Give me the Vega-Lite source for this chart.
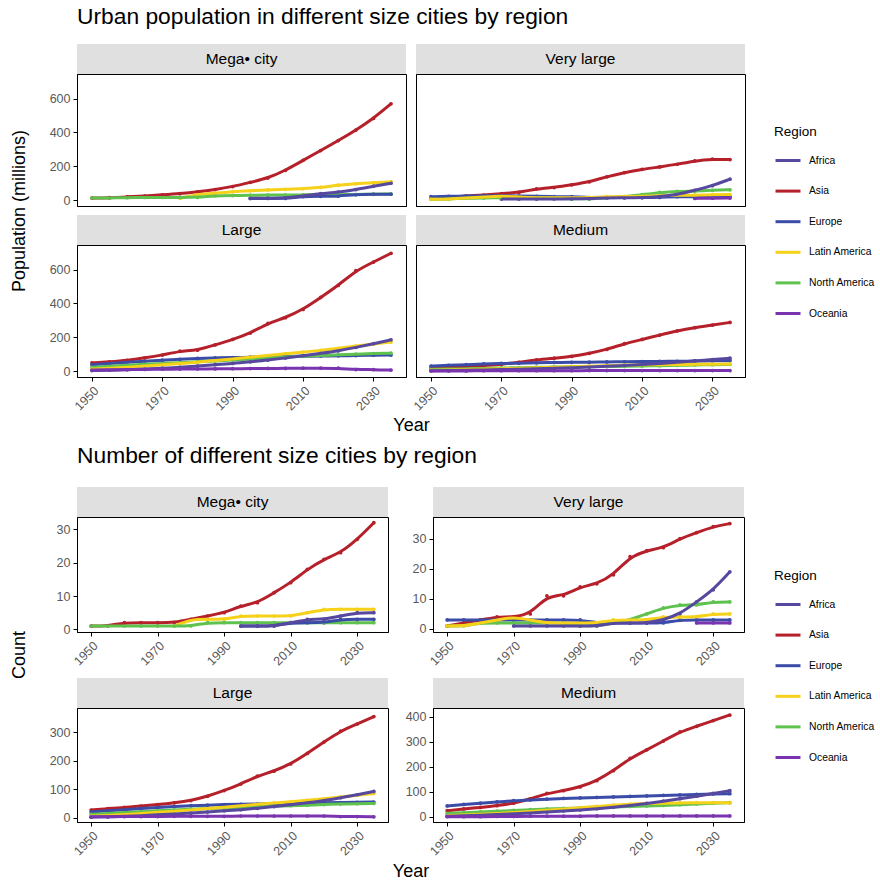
{
"$schema": "https://vega.github.io/schema/vega-lite/v6.json",
"background": "white",
"padding": {"left": 9, "top": 6, "right": 0, "bottom": 0},
"datasets": {
"mega": [
{"region":"Asia","year":1950,"pop":12,"count":1},{"region":"Asia","year":1955,"pop":14,"count":1},{"region":"Asia","year":1960,"pop":19,"count":2},{"region":"Asia","year":1965,"pop":24,"count":2},{"region":"Asia","year":1970,"pop":31,"count":2},{"region":"Asia","year":1975,"pop":38,"count":2},{"region":"Asia","year":1980,"pop":48,"count":3},{"region":"Asia","year":1985,"pop":62,"count":4},{"region":"Asia","year":1990,"pop":80,"count":5},{"region":"Asia","year":1995,"pop":105,"count":7},{"region":"Asia","year":2000,"pop":130,"count":8},{"region":"Asia","year":2005,"pop":176,"count":11},{"region":"Asia","year":2010,"pop":235,"count":14},{"region":"Asia","year":2015,"pop":293,"count":18},{"region":"Asia","year":2020,"pop":352,"count":21},{"region":"Asia","year":2025,"pop":414,"count":23},{"region":"Asia","year":2030,"pop":483,"count":27},{"region":"Asia","year":2035,"pop":570,"count":32},
{"region":"Latin America","year":1975,"pop":11,"count":1},{"region":"Latin America","year":1980,"pop":35,"count":3},{"region":"Latin America","year":1985,"pop":40,"count":3},{"region":"Latin America","year":1990,"pop":50,"count":3},{"region":"Latin America","year":1995,"pop":55,"count":4},{"region":"Latin America","year":2000,"pop":60,"count":4},{"region":"Latin America","year":2005,"pop":64,"count":4},{"region":"Latin America","year":2010,"pop":67,"count":4},{"region":"Latin America","year":2015,"pop":75,"count":5},{"region":"Latin America","year":2020,"pop":88,"count":6},{"region":"Latin America","year":2025,"pop":97,"count":6},{"region":"Latin America","year":2030,"pop":103,"count":6},{"region":"Latin America","year":2035,"pop":108,"count":6},
{"region":"North America","year":1950,"pop":12,"count":1},{"region":"North America","year":1955,"pop":13,"count":1},{"region":"North America","year":1960,"pop":14,"count":1},{"region":"North America","year":1965,"pop":16,"count":1},{"region":"North America","year":1970,"pop":16,"count":1},{"region":"North America","year":1975,"pop":16,"count":1},{"region":"North America","year":1980,"pop":16,"count":1},{"region":"North America","year":1985,"pop":26,"count":2},{"region":"North America","year":1990,"pop":27,"count":2},{"region":"North America","year":1995,"pop":28,"count":2},{"region":"North America","year":2000,"pop":30,"count":2},{"region":"North America","year":2005,"pop":30,"count":2},{"region":"North America","year":2010,"pop":31,"count":2},{"region":"North America","year":2015,"pop":31,"count":2},{"region":"North America","year":2020,"pop":32,"count":2},{"region":"North America","year":2025,"pop":33,"count":2},{"region":"North America","year":2030,"pop":35,"count":2},{"region":"North America","year":2035,"pop":36,"count":2},
{"region":"Europe","year":1995,"pop":10,"count":1},{"region":"Europe","year":2000,"pop":10,"count":1},{"region":"Europe","year":2005,"pop":10,"count":1},{"region":"Europe","year":2010,"pop":21,"count":2},{"region":"Europe","year":2015,"pop":22,"count":2},{"region":"Europe","year":2020,"pop":23,"count":2},{"region":"Europe","year":2025,"pop":33,"count":3},{"region":"Europe","year":2030,"pop":34,"count":3},{"region":"Europe","year":2035,"pop":35,"count":3},
{"region":"Africa","year":1995,"pop":10,"count":1},{"region":"Africa","year":2000,"pop":11,"count":1},{"region":"Africa","year":2005,"pop":12,"count":1},{"region":"Africa","year":2010,"pop":24,"count":2},{"region":"Africa","year":2015,"pop":38,"count":3},{"region":"Africa","year":2020,"pop":47,"count":3},{"region":"Africa","year":2025,"pop":62,"count":4},{"region":"Africa","year":2030,"pop":82,"count":5},{"region":"Africa","year":2035,"pop":100,"count":5}
],
"vlarge": [
{"region":"Asia","year":1950,"pop":8,"count":1},{"region":"Asia","year":1955,"pop":17,"count":2},{"region":"Asia","year":1960,"pop":24,"count":3},{"region":"Asia","year":1965,"pop":30,"count":4},{"region":"Asia","year":1970,"pop":38,"count":4},{"region":"Asia","year":1975,"pop":45,"count":5},{"region":"Asia","year":1980,"pop":67,"count":11},{"region":"Asia","year":1985,"pop":74,"count":11},{"region":"Asia","year":1990,"pop":90,"count":14},{"region":"Asia","year":1995,"pop":108,"count":15},{"region":"Asia","year":2000,"pop":138,"count":18},{"region":"Asia","year":2005,"pop":163,"count":24},{"region":"Asia","year":2010,"pop":182,"count":26},{"region":"Asia","year":2015,"pop":196,"count":27},{"region":"Asia","year":2020,"pop":212,"count":30},{"region":"Asia","year":2025,"pop":232,"count":32},{"region":"Asia","year":2030,"pop":242,"count":34},{"region":"Asia","year":2035,"pop":240,"count":35},
{"region":"Europe","year":1950,"pop":20,"count":3},{"region":"Europe","year":1955,"pop":22,"count":3},{"region":"Europe","year":1960,"pop":24,"count":3},{"region":"Europe","year":1965,"pop":25,"count":3},{"region":"Europe","year":1970,"pop":26,"count":3},{"region":"Europe","year":1975,"pop":24,"count":3},{"region":"Europe","year":1980,"pop":22,"count":3},{"region":"Europe","year":1985,"pop":20,"count":3},{"region":"Europe","year":1990,"pop":20,"count":3},{"region":"Europe","year":1995,"pop":15,"count":2},{"region":"Europe","year":2000,"pop":16,"count":2},{"region":"Europe","year":2005,"pop":16,"count":2},{"region":"Europe","year":2010,"pop":15,"count":2},{"region":"Europe","year":2015,"pop":16,"count":2},{"region":"Europe","year":2020,"pop":20,"count":3},{"region":"Europe","year":2025,"pop":20,"count":3},{"region":"Europe","year":2030,"pop":20,"count":3},{"region":"Europe","year":2035,"pop":20,"count":3},
{"region":"North America","year":1950,"pop":5,"count":1},{"region":"North America","year":1955,"pop":5,"count":1},{"region":"North America","year":1960,"pop":12,"count":2},{"region":"North America","year":1965,"pop":13,"count":2},{"region":"North America","year":1970,"pop":14,"count":2},{"region":"North America","year":1975,"pop":14,"count":2},{"region":"North America","year":1980,"pop":13,"count":2},{"region":"North America","year":1985,"pop":13,"count":2},{"region":"North America","year":1990,"pop":7,"count":1},{"region":"North America","year":1995,"pop":7,"count":1},{"region":"North America","year":2000,"pop":14,"count":2},{"region":"North America","year":2005,"pop":20,"count":3},{"region":"North America","year":2010,"pop":32,"count":5},{"region":"North America","year":2015,"pop":45,"count":7},{"region":"North America","year":2020,"pop":52,"count":8},{"region":"North America","year":2025,"pop":53,"count":8},{"region":"North America","year":2030,"pop":58,"count":9},{"region":"North America","year":2035,"pop":61,"count":9},
{"region":"Latin America","year":1950,"pop":5,"count":1},{"region":"Latin America","year":1955,"pop":6,"count":1},{"region":"Latin America","year":1960,"pop":12,"count":2},{"region":"Latin America","year":1965,"pop":18,"count":3},{"region":"Latin America","year":1970,"pop":25,"count":4},{"region":"Latin America","year":1975,"pop":18,"count":3},{"region":"Latin America","year":1980,"pop":13,"count":2},{"region":"Latin America","year":1985,"pop":14,"count":2},{"region":"Latin America","year":1990,"pop":14,"count":2},{"region":"Latin America","year":1995,"pop":15,"count":2},{"region":"Latin America","year":2000,"pop":20,"count":3},{"region":"Latin America","year":2005,"pop":21,"count":3},{"region":"Latin America","year":2010,"pop":22,"count":3},{"region":"Latin America","year":2015,"pop":27,"count":4},{"region":"Latin America","year":2020,"pop":28,"count":4},{"region":"Latin America","year":2025,"pop":29,"count":4},{"region":"Latin America","year":2030,"pop":32,"count":5},{"region":"Latin America","year":2035,"pop":33,"count":5},
{"region":"Africa","year":1970,"pop":6,"count":1},{"region":"Africa","year":1975,"pop":6,"count":1},{"region":"Africa","year":1980,"pop":6,"count":1},{"region":"Africa","year":1985,"pop":7,"count":1},{"region":"Africa","year":1990,"pop":7,"count":1},{"region":"Africa","year":1995,"pop":8,"count":1},{"region":"Africa","year":2000,"pop":13,"count":2},{"region":"Africa","year":2005,"pop":13,"count":2},{"region":"Africa","year":2010,"pop":14,"count":2},{"region":"Africa","year":2015,"pop":20,"count":3},{"region":"Africa","year":2020,"pop":32,"count":5},{"region":"Africa","year":2025,"pop":58,"count":9},{"region":"Africa","year":2030,"pop":85,"count":13},{"region":"Africa","year":2035,"pop":124,"count":19},
{"region":"Oceania","year":2025,"pop":10,"count":2},{"region":"Oceania","year":2030,"pop":11,"count":2},{"region":"Oceania","year":2035,"pop":12,"count":2}
],
"large": [
{"region":"Asia","year":1950,"pop":48,"count":27},{"region":"Asia","year":1955,"pop":55,"count":32},{"region":"Asia","year":1960,"pop":63,"count":36},{"region":"Asia","year":1965,"pop":78,"count":41},{"region":"Asia","year":1970,"pop":95,"count":46},{"region":"Asia","year":1975,"pop":118,"count":52},{"region":"Asia","year":1980,"pop":124,"count":60},{"region":"Asia","year":1985,"pop":155,"count":75},{"region":"Asia","year":1990,"pop":187,"count":95},{"region":"Asia","year":1995,"pop":225,"count":118},{"region":"Asia","year":2000,"pop":282,"count":146},{"region":"Asia","year":2005,"pop":316,"count":163},{"region":"Asia","year":2010,"pop":365,"count":188},{"region":"Asia","year":2015,"pop":436,"count":225},{"region":"Asia","year":2020,"pop":507,"count":265},{"region":"Asia","year":2025,"pop":594,"count":303},{"region":"Asia","year":2030,"pop":645,"count":328},{"region":"Asia","year":2035,"pop":697,"count":354},
{"region":"Europe","year":1950,"pop":38,"count":20},{"region":"Europe","year":1955,"pop":45,"count":24},{"region":"Europe","year":1960,"pop":52,"count":28},{"region":"Europe","year":1965,"pop":58,"count":32},{"region":"Europe","year":1970,"pop":65,"count":36},{"region":"Europe","year":1975,"pop":70,"count":39},{"region":"Europe","year":1980,"pop":75,"count":42},{"region":"Europe","year":1985,"pop":78,"count":44},{"region":"Europe","year":1990,"pop":80,"count":46},{"region":"Europe","year":1995,"pop":82,"count":47},{"region":"Europe","year":2000,"pop":84,"count":48},{"region":"Europe","year":2005,"pop":86,"count":49},{"region":"Europe","year":2010,"pop":88,"count":50},{"region":"Europe","year":2015,"pop":89,"count":51},{"region":"Europe","year":2020,"pop":90,"count":52},{"region":"Europe","year":2025,"pop":92,"count":53},{"region":"Europe","year":2030,"pop":94,"count":54},{"region":"Europe","year":2035,"pop":95,"count":55},
{"region":"North America","year":1950,"pop":22,"count":12},{"region":"North America","year":1955,"pop":28,"count":15},{"region":"North America","year":1960,"pop":34,"count":18},{"region":"North America","year":1965,"pop":40,"count":21},{"region":"North America","year":1970,"pop":45,"count":24},{"region":"North America","year":1975,"pop":50,"count":27},{"region":"North America","year":1980,"pop":55,"count":30},{"region":"North America","year":1985,"pop":60,"count":32},{"region":"North America","year":1990,"pop":65,"count":34},{"region":"North America","year":1995,"pop":72,"count":36},{"region":"North America","year":2000,"pop":78,"count":38},{"region":"North America","year":2005,"pop":84,"count":40},{"region":"North America","year":2010,"pop":88,"count":42},{"region":"North America","year":2015,"pop":92,"count":44},{"region":"North America","year":2020,"pop":96,"count":46},{"region":"North America","year":2025,"pop":100,"count":48},{"region":"North America","year":2030,"pop":104,"count":49},{"region":"North America","year":2035,"pop":106,"count":50},
{"region":"Latin America","year":1950,"pop":12,"count":6},{"region":"Latin America","year":1955,"pop":16,"count":8},{"region":"Latin America","year":1960,"pop":22,"count":11},{"region":"Latin America","year":1965,"pop":30,"count":15},{"region":"Latin America","year":1970,"pop":38,"count":19},{"region":"Latin America","year":1975,"pop":45,"count":23},{"region":"Latin America","year":1980,"pop":52,"count":27},{"region":"Latin America","year":1985,"pop":62,"count":32},{"region":"Latin America","year":1990,"pop":72,"count":37},{"region":"Latin America","year":1995,"pop":82,"count":42},{"region":"Latin America","year":2000,"pop":92,"count":47},{"region":"Latin America","year":2005,"pop":103,"count":52},{"region":"Latin America","year":2010,"pop":112,"count":56},{"region":"Latin America","year":2015,"pop":122,"count":61},{"region":"Latin America","year":2020,"pop":135,"count":66},{"region":"Latin America","year":2025,"pop":148,"count":72},{"region":"Latin America","year":2030,"pop":160,"count":79},{"region":"Latin America","year":2035,"pop":172,"count":85},
{"region":"Africa","year":1950,"pop":3,"count":2},{"region":"Africa","year":1955,"pop":5,"count":3},{"region":"Africa","year":1960,"pop":8,"count":5},{"region":"Africa","year":1965,"pop":12,"count":7},{"region":"Africa","year":1970,"pop":17,"count":10},{"region":"Africa","year":1975,"pop":22,"count":13},{"region":"Africa","year":1980,"pop":30,"count":16},{"region":"Africa","year":1985,"pop":38,"count":20},{"region":"Africa","year":1990,"pop":45,"count":24},{"region":"Africa","year":1995,"pop":55,"count":28},{"region":"Africa","year":2000,"pop":65,"count":33},{"region":"Africa","year":2005,"pop":78,"count":39},{"region":"Africa","year":2010,"pop":90,"count":45},{"region":"Africa","year":2015,"pop":105,"count":52},{"region":"Africa","year":2020,"pop":120,"count":60},{"region":"Africa","year":2025,"pop":140,"count":70},{"region":"Africa","year":2030,"pop":162,"count":80},{"region":"Africa","year":2035,"pop":185,"count":92},
{"region":"Oceania","year":1950,"pop":6,"count":3},{"region":"Oceania","year":1955,"pop":7,"count":3},{"region":"Oceania","year":1960,"pop":9,"count":4},{"region":"Oceania","year":1965,"pop":10,"count":4},{"region":"Oceania","year":1970,"pop":11,"count":4},{"region":"Oceania","year":1975,"pop":12,"count":5},{"region":"Oceania","year":1980,"pop":13,"count":5},{"region":"Oceania","year":1985,"pop":13,"count":5},{"region":"Oceania","year":1990,"pop":14,"count":5},{"region":"Oceania","year":1995,"pop":15,"count":6},{"region":"Oceania","year":2000,"pop":16,"count":6},{"region":"Oceania","year":2005,"pop":16,"count":6},{"region":"Oceania","year":2010,"pop":17,"count":6},{"region":"Oceania","year":2015,"pop":17,"count":6},{"region":"Oceania","year":2020,"pop":17,"count":6},{"region":"Oceania","year":2025,"pop":9,"count":4},{"region":"Oceania","year":2030,"pop":9,"count":4},{"region":"Oceania","year":2035,"pop":6,"count":3}
],
"medium": [
{"region":"Asia","year":1950,"pop":18,"count":25},{"region":"Asia","year":1955,"pop":22,"count":32},{"region":"Asia","year":1960,"pop":28,"count":38},{"region":"Asia","year":1965,"pop":33,"count":45},{"region":"Asia","year":1970,"pop":40,"count":55},{"region":"Asia","year":1975,"pop":52,"count":72},{"region":"Asia","year":1980,"pop":66,"count":94},{"region":"Asia","year":1985,"pop":76,"count":105},{"region":"Asia","year":1990,"pop":87,"count":120},{"region":"Asia","year":1995,"pop":105,"count":145},{"region":"Asia","year":2000,"pop":128,"count":185},{"region":"Asia","year":2005,"pop":162,"count":234},{"region":"Asia","year":2010,"pop":187,"count":268},{"region":"Asia","year":2015,"pop":213,"count":303},{"region":"Asia","year":2020,"pop":238,"count":340},{"region":"Asia","year":2025,"pop":257,"count":362},{"region":"Asia","year":2030,"pop":272,"count":385},{"region":"Asia","year":2035,"pop":288,"count":407},
{"region":"Europe","year":1950,"pop":30,"count":44},{"region":"Europe","year":1955,"pop":34,"count":50},{"region":"Europe","year":1960,"pop":38,"count":55},{"region":"Europe","year":1965,"pop":42,"count":60},{"region":"Europe","year":1970,"pop":45,"count":65},{"region":"Europe","year":1975,"pop":47,"count":68},{"region":"Europe","year":1980,"pop":49,"count":71},{"region":"Europe","year":1985,"pop":51,"count":74},{"region":"Europe","year":1990,"pop":52,"count":76},{"region":"Europe","year":1995,"pop":53,"count":78},{"region":"Europe","year":2000,"pop":54,"count":80},{"region":"Europe","year":2005,"pop":55,"count":82},{"region":"Europe","year":2010,"pop":56,"count":84},{"region":"Europe","year":2015,"pop":57,"count":86},{"region":"Europe","year":2020,"pop":58,"count":88},{"region":"Europe","year":2025,"pop":59,"count":90},{"region":"Europe","year":2030,"pop":61,"count":92},{"region":"Europe","year":2035,"pop":62,"count":93},
{"region":"North America","year":1950,"pop":10,"count":14},{"region":"North America","year":1955,"pop":12,"count":17},{"region":"North America","year":1960,"pop":14,"count":20},{"region":"North America","year":1965,"pop":16,"count":23},{"region":"North America","year":1970,"pop":18,"count":26},{"region":"North America","year":1975,"pop":20,"count":29},{"region":"North America","year":1980,"pop":22,"count":32},{"region":"North America","year":1985,"pop":24,"count":34},{"region":"North America","year":1990,"pop":25,"count":36},{"region":"North America","year":1995,"pop":26,"count":38},{"region":"North America","year":2000,"pop":27,"count":40},{"region":"North America","year":2005,"pop":28,"count":42},{"region":"North America","year":2010,"pop":30,"count":44},{"region":"North America","year":2015,"pop":32,"count":46},{"region":"North America","year":2020,"pop":34,"count":49},{"region":"North America","year":2025,"pop":36,"count":52},{"region":"North America","year":2030,"pop":38,"count":55},{"region":"North America","year":2035,"pop":40,"count":57},
{"region":"Latin America","year":1950,"pop":5,"count":5},{"region":"Latin America","year":1955,"pop":7,"count":8},{"region":"Latin America","year":1960,"pop":9,"count":11},{"region":"Latin America","year":1965,"pop":11,"count":14},{"region":"Latin America","year":1970,"pop":14,"count":18},{"region":"Latin America","year":1975,"pop":17,"count":22},{"region":"Latin America","year":1980,"pop":20,"count":27},{"region":"Latin America","year":1985,"pop":23,"count":32},{"region":"Latin America","year":1990,"pop":26,"count":37},{"region":"Latin America","year":1995,"pop":29,"count":42},{"region":"Latin America","year":2000,"pop":32,"count":47},{"region":"Latin America","year":2005,"pop":35,"count":51},{"region":"Latin America","year":2010,"pop":37,"count":54},{"region":"Latin America","year":2015,"pop":38,"count":55},{"region":"Latin America","year":2020,"pop":39,"count":56},{"region":"Latin America","year":2025,"pop":40,"count":57},{"region":"Latin America","year":2030,"pop":41,"count":57},{"region":"Latin America","year":2035,"pop":42,"count":57},
{"region":"Africa","year":1950,"pop":2,"count":3},{"region":"Africa","year":1955,"pop":3,"count":5},{"region":"Africa","year":1960,"pop":5,"count":7},{"region":"Africa","year":1965,"pop":7,"count":10},{"region":"Africa","year":1970,"pop":9,"count":13},{"region":"Africa","year":1975,"pop":11,"count":16},{"region":"Africa","year":1980,"pop":14,"count":20},{"region":"Africa","year":1985,"pop":17,"count":24},{"region":"Africa","year":1990,"pop":20,"count":28},{"region":"Africa","year":1995,"pop":24,"count":33},{"region":"Africa","year":2000,"pop":28,"count":39},{"region":"Africa","year":2005,"pop":33,"count":46},{"region":"Africa","year":2010,"pop":38,"count":54},{"region":"Africa","year":2015,"pop":45,"count":63},{"region":"Africa","year":2020,"pop":52,"count":73},{"region":"Africa","year":2025,"pop":60,"count":83},{"region":"Africa","year":2030,"pop":68,"count":94},{"region":"Africa","year":2035,"pop":76,"count":105},
{"region":"Oceania","year":1950,"pop":1,"count":1},{"region":"Oceania","year":1955,"pop":1,"count":1},{"region":"Oceania","year":1960,"pop":1,"count":1},{"region":"Oceania","year":1965,"pop":2,"count":2},{"region":"Oceania","year":1970,"pop":2,"count":2},{"region":"Oceania","year":1975,"pop":2,"count":3},{"region":"Oceania","year":1980,"pop":2,"count":3},{"region":"Oceania","year":1985,"pop":2,"count":3},{"region":"Oceania","year":1990,"pop":2,"count":3},{"region":"Oceania","year":1995,"pop":3,"count":4},{"region":"Oceania","year":2000,"pop":3,"count":4},{"region":"Oceania","year":2005,"pop":3,"count":4},{"region":"Oceania","year":2010,"pop":3,"count":4},{"region":"Oceania","year":2015,"pop":3,"count":4},{"region":"Oceania","year":2020,"pop":3,"count":4},{"region":"Oceania","year":2025,"pop":3,"count":4},{"region":"Oceania","year":2030,"pop":3,"count":4},{"region":"Oceania","year":2035,"pop":3,"count":4}
]
},
"spacing": 10,
"resolve": {"scale": {"color": "independent"}},
"vconcat": [
{
"title": {"text": "Urban population in different size cities by region", "anchor": "start", "frame": "group", "fontSize": 22.8, "fontWeight": "normal", "color": "black", "offset": 15},
"columns": 2,
"bounds": "flush",
"spacing": {"row": 0, "column": 10},
"concat": [
{"data": {"values": [{"label": "Mega• city"}]}, "width": 329, "height": 30, "view": {"fill": "#e0e0e0", "stroke": null}, "mark": {"type": "text", "fontSize": 15.5, "color": "black"}, "encoding": {"text": {"field": "label", "type": "nominal"}}},
{"data": {"values": [{"label": "Very large"}]}, "width": 329, "height": 30, "view": {"fill": "#e0e0e0", "stroke": null}, "mark": {"type": "text", "fontSize": 15.5, "color": "black"}, "encoding": {"text": {"field": "label", "type": "nominal"}}},
{"data": {"name": "mega"}, "width": 329, "height": 132,
 "encoding": {
  "x": {"field": "year", "type": "quantitative", "scale": {"domain": [1945.75, 2039.25], "nice": false, "zero": false}, "axis": {"values": [1950, 1970, 1990, 2010, 2030], "labels": false, "ticks": false, "title": null}},
  "y": {"field": "pop", "type": "quantitative", "scale": {"domain": [-35, 746], "nice": false, "zero": false}, "axis": {"values": [0, 200, 400, 600], "title": "Population (millions)", "titleX": -58, "titleY": 136.5, "titleBaseline": "middle"}},
  "color": {"field": "region", "type": "nominal", "scale": {"domain": ["Africa", "Asia", "Europe", "Latin America", "North America", "Oceania"], "range": ["#56489e", "#b5202a", "#3a4ca8", "#f6d11a", "#5fc24f", "#7b34b0"]}, "legend": {"title": "Region", "orient": "none", "legendX": 697, "legendY": 81}}
 },
 "layer": [{"mark": {"type": "point", "filled": true, "size": 14, "opacity": 1}}, {"mark": {"type": "line", "strokeWidth": 3, "interpolate": "basis"}}]},
{"data": {"name": "vlarge"}, "width": 329, "height": 132,
 "encoding": {
  "x": {"field": "year", "type": "quantitative", "scale": {"domain": [1945.75, 2039.25], "nice": false, "zero": false}, "axis": {"values": [1950, 1970, 1990, 2010, 2030], "labels": false, "ticks": false, "title": null}},
  "y": {"field": "pop", "type": "quantitative", "scale": {"domain": [-35, 746], "nice": false, "zero": false}, "axis": {"values": [0, 200, 400, 600], "labels": false, "ticks": false, "title": null}},
  "color": {"field": "region", "type": "nominal", "scale": {"domain": ["Africa", "Asia", "Europe", "Latin America", "North America", "Oceania"], "range": ["#56489e", "#b5202a", "#3a4ca8", "#f6d11a", "#5fc24f", "#7b34b0"]}, "legend": {"title": "Region", "orient": "none", "legendX": 697, "legendY": 81}}
 },
 "layer": [{"mark": {"type": "point", "filled": true, "size": 14, "opacity": 1}}, {"mark": {"type": "line", "strokeWidth": 3, "interpolate": "basis"}}]},
{"data": {"values": []}, "width": 329, "height": 9, "view": {"stroke": null}, "mark": "text"},
{"data": {"values": []}, "width": 329, "height": 9, "view": {"stroke": null}, "mark": "text"},
{"data": {"values": [{"label": "Large"}]}, "width": 329, "height": 30, "view": {"fill": "#e0e0e0", "stroke": null}, "mark": {"type": "text", "fontSize": 15.5, "color": "black"}, "encoding": {"text": {"field": "label", "type": "nominal"}}},
{"data": {"values": [{"label": "Medium"}]}, "width": 329, "height": 30, "view": {"fill": "#e0e0e0", "stroke": null}, "mark": {"type": "text", "fontSize": 15.5, "color": "black"}, "encoding": {"text": {"field": "label", "type": "nominal"}}},
{"data": {"name": "large"}, "width": 329, "height": 132,
 "encoding": {
  "x": {"field": "year", "type": "quantitative", "scale": {"domain": [1945.75, 2039.25], "nice": false, "zero": false}, "axis": {"values": [1950, 1970, 1990, 2010, 2030], "format": "d", "labelAngle": -45, "labelAlign": "right", "labelBaseline": "top", "title": "Year", "titleX": 334, "titleY": 39}},
  "y": {"field": "pop", "type": "quantitative", "scale": {"domain": [-35, 746], "nice": false, "zero": false}, "axis": {"values": [0, 200, 400, 600], "title": null}},
  "color": {"field": "region", "type": "nominal", "scale": {"domain": ["Africa", "Asia", "Europe", "Latin America", "North America", "Oceania"], "range": ["#56489e", "#b5202a", "#3a4ca8", "#f6d11a", "#5fc24f", "#7b34b0"]}, "legend": {"title": "Region", "orient": "none", "legendX": 697, "legendY": 81}}
 },
 "layer": [{"mark": {"type": "point", "filled": true, "size": 14, "opacity": 1}}, {"mark": {"type": "line", "strokeWidth": 3, "interpolate": "basis"}}]},
{"data": {"name": "medium"}, "width": 329, "height": 132,
 "encoding": {
  "x": {"field": "year", "type": "quantitative", "scale": {"domain": [1945.75, 2039.25], "nice": false, "zero": false}, "axis": {"values": [1950, 1970, 1990, 2010, 2030], "format": "d", "labelAngle": -45, "labelAlign": "right", "labelBaseline": "top", "title": null}},
  "y": {"field": "pop", "type": "quantitative", "scale": {"domain": [-35, 746], "nice": false, "zero": false}, "axis": {"values": [0, 200, 400, 600], "labels": false, "ticks": false, "title": null}},
  "color": {"field": "region", "type": "nominal", "scale": {"domain": ["Africa", "Asia", "Europe", "Latin America", "North America", "Oceania"], "range": ["#56489e", "#b5202a", "#3a4ca8", "#f6d11a", "#5fc24f", "#7b34b0"]}, "legend": {"title": "Region", "orient": "none", "legendX": 697, "legendY": 81}}
 },
 "layer": [{"mark": {"type": "point", "filled": true, "size": 14, "opacity": 1}}, {"mark": {"type": "line", "strokeWidth": 3, "interpolate": "basis"}}]}
]
},
{
"title": {"text": "Number of different size cities by region", "anchor": "start", "frame": "group", "fontSize": 22.8, "fontWeight": "normal", "color": "black", "offset": 19},
"columns": 2,
"bounds": "flush",
"spacing": {"row": 0, "column": 45},
"resolve": {"scale": {"y": "independent"}},
"concat": [
{"data": {"values": [{"label": "Mega• city"}]}, "width": 311, "height": 30, "view": {"fill": "#e0e0e0", "stroke": null}, "mark": {"type": "text", "fontSize": 15.5, "color": "black"}, "encoding": {"text": {"field": "label", "type": "nominal"}}},
{"data": {"values": [{"label": "Very large"}]}, "width": 311, "height": 30, "view": {"fill": "#e0e0e0", "stroke": null}, "mark": {"type": "text", "fontSize": 15.5, "color": "black"}, "encoding": {"text": {"field": "label", "type": "nominal"}}},
{"data": {"name": "mega"}, "width": 311, "height": 115,
 "encoding": {
  "x": {"field": "year", "type": "quantitative", "scale": {"domain": [1945.75, 2039.25], "nice": false, "zero": false}, "axis": {"values": [1950, 1970, 1990, 2010, 2030], "format": "d", "labelAngle": -45, "labelAlign": "right", "labelBaseline": "top", "title": null}},
  "y": {"field": "count", "type": "quantitative", "scale": {"domain": [-0.8, 33.7], "nice": false, "zero": false}, "axis": {"values": [0, 10, 20, 30], "title": "Count", "titleX": -58, "titleY": 137.5, "titleBaseline": "middle"}},
  "color": {"field": "region", "type": "nominal", "scale": {"domain": ["Africa", "Asia", "Europe", "Latin America", "North America", "Oceania"], "range": ["#56489e", "#b5202a", "#3a4ca8", "#f6d11a", "#5fc24f", "#7b34b0"]}, "legend": {"title": "Region", "orient": "none", "legendX": 697, "legendY": 82}}
 },
 "layer": [{"mark": {"type": "point", "filled": true, "size": 14, "opacity": 1}}, {"mark": {"type": "line", "strokeWidth": 3, "interpolate": "basis"}}]},
{"data": {"name": "vlarge"}, "width": 311, "height": 115,
 "encoding": {
  "x": {"field": "year", "type": "quantitative", "scale": {"domain": [1945.75, 2039.25], "nice": false, "zero": false}, "axis": {"values": [1950, 1970, 1990, 2010, 2030], "format": "d", "labelAngle": -45, "labelAlign": "right", "labelBaseline": "top", "title": null}},
  "y": {"field": "count", "type": "quantitative", "scale": {"domain": [-1, 37.2], "nice": false, "zero": false}, "axis": {"values": [0, 10, 20, 30], "title": null}},
  "color": {"field": "region", "type": "nominal", "scale": {"domain": ["Africa", "Asia", "Europe", "Latin America", "North America", "Oceania"], "range": ["#56489e", "#b5202a", "#3a4ca8", "#f6d11a", "#5fc24f", "#7b34b0"]}, "legend": {"title": "Region", "orient": "none", "legendX": 697, "legendY": 82}}
 },
 "layer": [{"mark": {"type": "point", "filled": true, "size": 14, "opacity": 1}}, {"mark": {"type": "line", "strokeWidth": 3, "interpolate": "basis"}}]},
{"data": {"values": []}, "width": 311, "height": 46, "view": {"stroke": null}, "mark": "text"},
{"data": {"values": []}, "width": 311, "height": 46, "view": {"stroke": null}, "mark": "text"},
{"data": {"values": [{"label": "Large"}]}, "width": 311, "height": 30, "view": {"fill": "#e0e0e0", "stroke": null}, "mark": {"type": "text", "fontSize": 15.5, "color": "black"}, "encoding": {"text": {"field": "label", "type": "nominal"}}},
{"data": {"values": [{"label": "Medium"}]}, "width": 311, "height": 30, "view": {"fill": "#e0e0e0", "stroke": null}, "mark": {"type": "text", "fontSize": 15.5, "color": "black"}, "encoding": {"text": {"field": "label", "type": "nominal"}}},
{"data": {"name": "large"}, "width": 311, "height": 114,
 "encoding": {
  "x": {"field": "year", "type": "quantitative", "scale": {"domain": [1945.75, 2039.25], "nice": false, "zero": false}, "axis": {"values": [1950, 1970, 1990, 2010, 2030], "format": "d", "labelAngle": -45, "labelAlign": "right", "labelBaseline": "top", "title": "Year", "titleX": 333.5, "titleY": 40}},
  "y": {"field": "count", "type": "quantitative", "scale": {"domain": [-15, 384], "nice": false, "zero": false}, "axis": {"values": [0, 100, 200, 300], "title": null}},
  "color": {"field": "region", "type": "nominal", "scale": {"domain": ["Africa", "Asia", "Europe", "Latin America", "North America", "Oceania"], "range": ["#56489e", "#b5202a", "#3a4ca8", "#f6d11a", "#5fc24f", "#7b34b0"]}, "legend": {"title": "Region", "orient": "none", "legendX": 697, "legendY": 82}}
 },
 "layer": [{"mark": {"type": "point", "filled": true, "size": 14, "opacity": 1}}, {"mark": {"type": "line", "strokeWidth": 3, "interpolate": "basis"}}]},
{"data": {"name": "medium"}, "width": 311, "height": 114,
 "encoding": {
  "x": {"field": "year", "type": "quantitative", "scale": {"domain": [1945.75, 2039.25], "nice": false, "zero": false}, "axis": {"values": [1950, 1970, 1990, 2010, 2030], "format": "d", "labelAngle": -45, "labelAlign": "right", "labelBaseline": "top", "title": null}},
  "y": {"field": "count", "type": "quantitative", "scale": {"domain": [-20, 435], "nice": false, "zero": false}, "axis": {"values": [0, 100, 200, 300, 400], "title": null}},
  "color": {"field": "region", "type": "nominal", "scale": {"domain": ["Africa", "Asia", "Europe", "Latin America", "North America", "Oceania"], "range": ["#56489e", "#b5202a", "#3a4ca8", "#f6d11a", "#5fc24f", "#7b34b0"]}, "legend": {"title": "Region", "orient": "none", "legendX": 697, "legendY": 82}}
 },
 "layer": [{"mark": {"type": "point", "filled": true, "size": 14, "opacity": 1}}, {"mark": {"type": "line", "strokeWidth": 3, "interpolate": "basis"}}]}
]
}
],
"config": {
 "font": "Liberation Sans",
 "view": {"stroke": "black", "strokeWidth": 1},
 "axis": {"grid": false, "domainColor": "black", "tickColor": "black", "labelColor": "#595959", "labelFontSize": 12.5, "labelFont": "Liberation Sans", "titleFont": "Liberation Sans", "titleFontSize": 18, "titleFontWeight": "normal", "titleColor": "black", "tickSize": 4, "labelPadding": 3},
 "legend": {"symbolType": "stroke", "symbolStrokeWidth": 3, "symbolSize": 625, "labelFontSize": 10.3, "labelColor": "black", "titleFontSize": 13.5, "titleFontWeight": "normal", "titleColor": "black", "titlePadding": 8, "rowPadding": 10.6, "labelOffset": 7, "padding": 0, "labelFont": "Liberation Sans", "titleFont": "Liberation Sans"},
 "title": {"font": "Liberation Sans"},
 "text": {"font": "Liberation Sans"}
}
}
